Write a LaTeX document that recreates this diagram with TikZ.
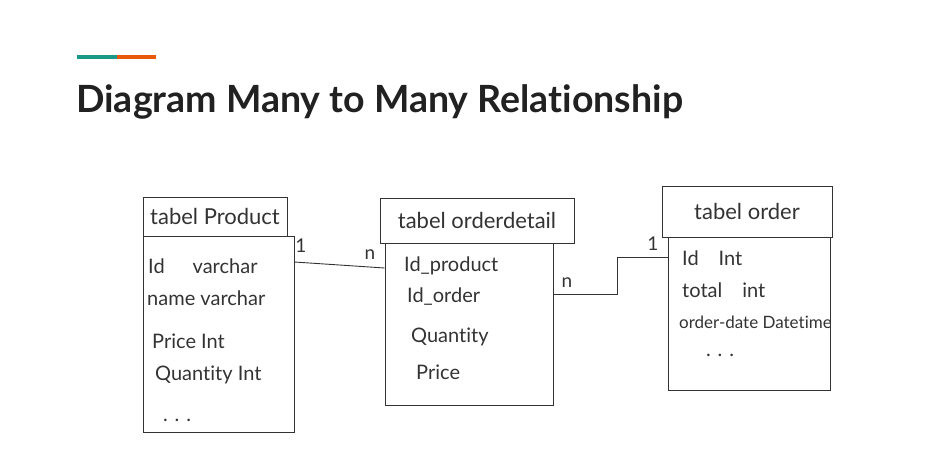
\documentclass[tikz,border=0pt]{standalone}
\usepackage{fontspec}
\setmainfont{Lato}[Ligatures=NoCommon]
\usepackage{tikz}
\usetikzlibrary{calc}
\definecolor{tealbar}{HTML}{1A9988}
\definecolor{orangebar}{HTML}{E8590C}
\definecolor{titleink}{HTML}{212121}
\definecolor{penink}{HTML}{333333}
\tikzset{
  tablebox/.style={draw=penink, line width=0.9pt, inner sep=0pt},
  rowtext/.style={anchor=west, inner sep=0pt, text=penink, font=\fontsize{20}{20}\selectfont},
  headtext/.style={text=penink, font=\fontsize{22}{22}\selectfont},
  relation/.style={draw=penink, line width=0.9pt},
  cardtext/.style={inner sep=0pt, text=penink, font=\fontsize{19}{19}\selectfont}
}
\begin{document}
\begin{tikzpicture}[x=1pt,y=-1pt]
\useasboundingbox (0,0) rectangle (940,467);

% accent bar and title
\fill [tealbar] (77,55) rectangle (117,59);
\fill [orangebar] (117,55) rectangle (156,59);
\node (title) at (76,102) [anchor=west, inner sep=0pt, text=titleink,
   font=\fontsize{37.5}{37.5}\selectfont\bfseries] {Diagram Many to Many Relationship};

% tabel product
\node (prodhead) at (215,216.5) [tablebox, minimum width=144pt, minimum height=39pt] {};
\node (prodbody) at (218.5,334) [tablebox, minimum width=151pt, minimum height=196pt] {};
\node (prodname) at (prodhead) [headtext] {tabel Product};
\node (prodid) at (148,266) [rowtext] {Id\hspace{1.4em}varchar};
\node (prodnm) at (147,298) [rowtext] {name varchar};
\node (prodpr) at (152,341) [rowtext] {Price Int};
\node (prodqt) at (155,375) [rowtext] {Quantity Int};
\node (proddot) at (163,420) [rowtext] {. . .};

% tabel orderdetail
\node (dethead) at (477,220.5) [tablebox, minimum width=194pt, minimum height=45pt] {};
\node (detbody) at (469,324) [tablebox, minimum width=168pt, minimum height=162pt] {};
\node (detname) at (dethead) [headtext] {tabel orderdetail};
\node (detidp) at (404,266) [rowtext] {Id\_product};
\node (detido) at (407,297) [rowtext] {Id\_order};
\node (detqt) at (411,337) [rowtext] {Quantity};
\node (detpr) at (416,372) [rowtext] {Price};

% tabel order
\node (ordhead) at (747,211.5) [tablebox, minimum width=170pt, minimum height=51pt] {};
\node (ordbody) at (749,313.5) [tablebox, minimum width=162pt, minimum height=153pt] {};
\node (ordname) at (ordhead) [headtext] {tabel order};
\node (ordid) at (682,258) [rowtext] {Id\quad Int};
\node (ordtot) at (682,290) [rowtext] {total\quad int};
\node (orddt) at (679,322) [rowtext, font=\fontsize{17}{17}\selectfont] {order-date Datetime};
\node (orddot) at (706,355) [rowtext] {. . .};

% relations
\draw [relation] (prodbody.east |- 0,262) -- (detbody.west |- 0,268);
\draw [relation] (detbody.east |- 0,294) -- ++(64,0) |- (ordbody.west |- 0,257);
\node (prodone) at (301,246) [cardtext] {1};
\node (detmany1) at (370,255) [cardtext] {n};
\node (detmany2) at (567,283) [cardtext] {n};
\node (ordone) at (653,244) [cardtext] {1};
\end{tikzpicture}
\end{document}
